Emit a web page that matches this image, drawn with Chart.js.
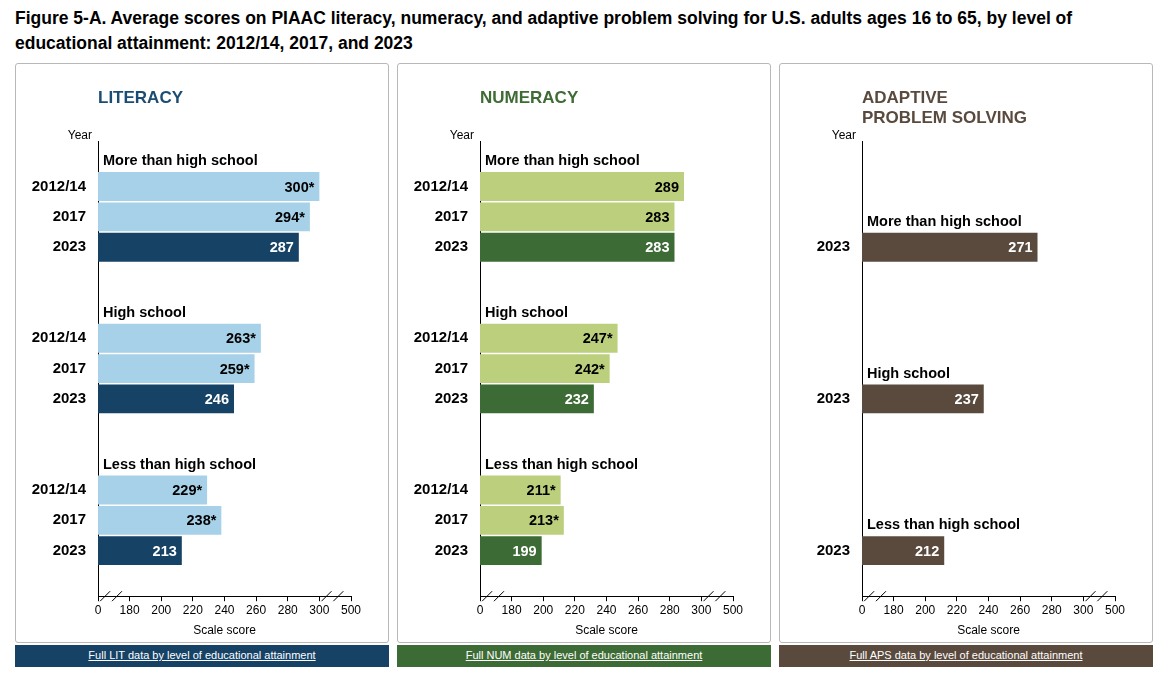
<!DOCTYPE html>
<html>
<head>
<meta charset="utf-8">
<script src="https://cdn.jsdelivr.net/npm/chart.js@4"></script>
<style>
body { margin: 0; background: #fff; font-family: Arial, "Liberation Sans", sans-serif; }
h1 { position: absolute; left: 15px; top: 6px; margin: 0; font-size: 17.5px; line-height: 25px; font-weight: bold; color: #000; width: 1130px; }
.panel { position: absolute; top: 63px; width: 372px; height: 578px; border: 1px solid #b8b8b8; border-radius: 3px; }
.panel canvas { position: absolute; left: 0; top: 0; }
.foot { position: absolute; top: 645px; width: 374px; height: 22px; color: #fff; font-size: 11px; text-align: center; line-height: 21px; text-decoration: underline; }
</style>
</head>
<body>
<h1>Figure 5-A. Average scores on PIAAC literacy, numeracy, and adaptive problem solving for U.S. adults ages 16 to 65, by level of educational attainment: 2012/14, 2017, and 2023</h1>
<div class="panel" style="left:15px"><canvas id="c0" width="372" height="578"></canvas></div>
<div class="panel" style="left:397px"><canvas id="c1" width="372" height="578"></canvas></div>
<div class="panel" style="left:779px"><canvas id="c2" width="372" height="578"></canvas></div>
<div class="foot" style="left:15px;background:#164265">Full LIT data by level of educational attainment</div>
<div class="foot" style="left:397px;background:#3d6b35">Full NUM data by level of educational attainment</div>
<div class="foot" style="left:779px;background:#5a4a3e">Full APS data by level of educational attainment</div>
<script>
const groups = ['More than high school', 'High school', 'Less than high school'];
const years = ['2012/14', '2017', '2023'];
const xTicks = ['0', '180', '200', '220', '240', '260', '280', '300', '500'];

const litValues = [300, 294, 287, 263, 259, 246, 229, 238, 213];
const litStars = [true, true, false, true, true, false, true, true, false];
const numValues = [289, 283, 283, 247, 242, 232, 211, 213, 199];
const numStars = [false, false, false, true, true, false, true, true, false];
const apsValues = [271, 237, 212];

// the axis is broken: 0 sits one step left of 180, 500 one step right of 300
const AXIS_MIN = 160, AXIS_MAX = 320;

function buildRows(values, stars, yrs, headerRowOffset) {
  // 15 rows: header, 3 bars, blank for each group
  const labels = [], data = [], marks = [], headers = {};
  let vi = 0;
  groups.forEach((g, gi) => {
    const block = [];
    for (let r = 0; r < 5; r++) block.push({ label: '', v: null });
    if (yrs.length === 3) {
      headers[gi * 5] = g;
      yrs.forEach((y, k) => { block[k + 1] = { label: y, v: values[vi], s: stars[vi], dark: k === 2 }; vi++; });
    } else {
      headers[gi * 5 + headerRowOffset] = g;
      block[3] = { label: yrs[0], v: values[vi], s: false, dark: true }; vi++;
    }
    block.forEach(b => { labels.push(b.label); data.push(b.v === null ? null : [AXIS_MIN, b.v]); marks.push(b); });
  });
  return { labels, data, marks, headers };
}

function makeChart(id, title, titleColor, rows, light, dark, headerShift) {
  const titlePlugin = {
    id: 'decor',
    afterDraw(chart) {
      const c = chart.ctx, xs = chart.scales.x, ys = chart.scales.y, ca = chart.chartArea;
      c.save();
      c.fillStyle = titleColor;
      c.font = 'bold 17px Arial, "Liberation Sans"';
      c.textBaseline = 'alphabetic';
      title.forEach((t, i) => c.fillText(t, 82, 39 + i * 20));
      c.fillStyle = '#000';
      c.font = '12px Arial, "Liberation Sans"';
      c.textAlign = 'right';
      c.fillText('Year', 76, 75);
      // group headers
      c.textAlign = 'left';
      c.font = 'bold 14.5px Arial, "Liberation Sans"';
      Object.keys(rows.headers).forEach(r => {
        c.fillText(rows.headers[r], 87, ys.getPixelForValue(+r) + 9 + headerShift);
      });
      // value labels
      chart.getDatasetMeta(0).data.forEach((bar, i) => {
        const m = rows.marks[i];
        if (m.v === null) return;
        c.fillStyle = m.dark ? '#fff' : '#000';
        c.textAlign = 'right';
        c.fillText(m.v + (m.s ? '*' : ''), bar.x - 5, bar.y + 5);
      });
      // axis break marks
      c.strokeStyle = '#000';
      c.lineWidth = 1;
      const yb = ca.bottom;
      [[AXIS_MIN + 4.5, AXIS_MIN + 12], [AXIS_MAX - 15.5, AXIS_MAX - 8]].forEach(pair => {
        pair.forEach(v => {
          const px = xs.getPixelForValue(v);
          c.beginPath(); c.moveTo(px - 5, yb + 5); c.lineTo(px + 5, yb - 5); c.stroke();
        });
      });
      c.restore();
    }
  };
  new Chart(document.getElementById(id), {
    type: 'bar',
    data: {
      labels: rows.labels,
      datasets: [{
        data: rows.data,
        backgroundColor: rows.marks.map(m => m.dark ? dark : light),
        categoryPercentage: 1,
        barPercentage: 0.95,
        borderSkipped: false
      }]
    },
    options: {
      indexAxis: 'y',
      responsive: false,
      animation: false,
      layout: { padding: { top: 77, right: 37, left: 0, bottom: 0 } },
      plugins: { legend: { display: false }, tooltip: { enabled: false } },
      scales: {
        x: {
          min: AXIS_MIN, max: AXIS_MAX,
          ticks: { stepSize: 20, color: '#000', font: { size: 12, family: 'Arial' }, padding: 2,
            callback: (v, i) => xTicks[i] },
          grid: { drawOnChartArea: false, drawTicks: true, tickLength: 5, color: '#000' },
          border: { color: '#000' },
          title: { display: true, text: 'Scale score', color: '#000', font: { size: 12, family: 'Arial' }, padding: { top: 4 } }
        },
        y: {
          afterFit(s) { s.width = 82; },
          ticks: { color: '#000', font: { size: 15, weight: 'bold', family: 'Arial' }, autoSkip: false, padding: 4 },
          grid: { display: false },
          border: { color: '#000' }
        }
      }
    },
    plugins: [titlePlugin]
  });
}

makeChart('c0', ['LITERACY'], '#1b4d74', buildRows(litValues, litStars, years), '#a6d1e8', '#164265', 0);
makeChart('c1', ['NUMERACY'], '#3f6b35', buildRows(numValues, numStars, years), '#bccf7c', '#3d6b35', 0);
makeChart('c2', ['ADAPTIVE', 'PROBLEM SOLVING'], '#5a4a3e', buildRows(apsValues, [], ['2023'], 2), '#5a4a3e', '#5a4a3e', 0);
</script>
</body>
</html>
